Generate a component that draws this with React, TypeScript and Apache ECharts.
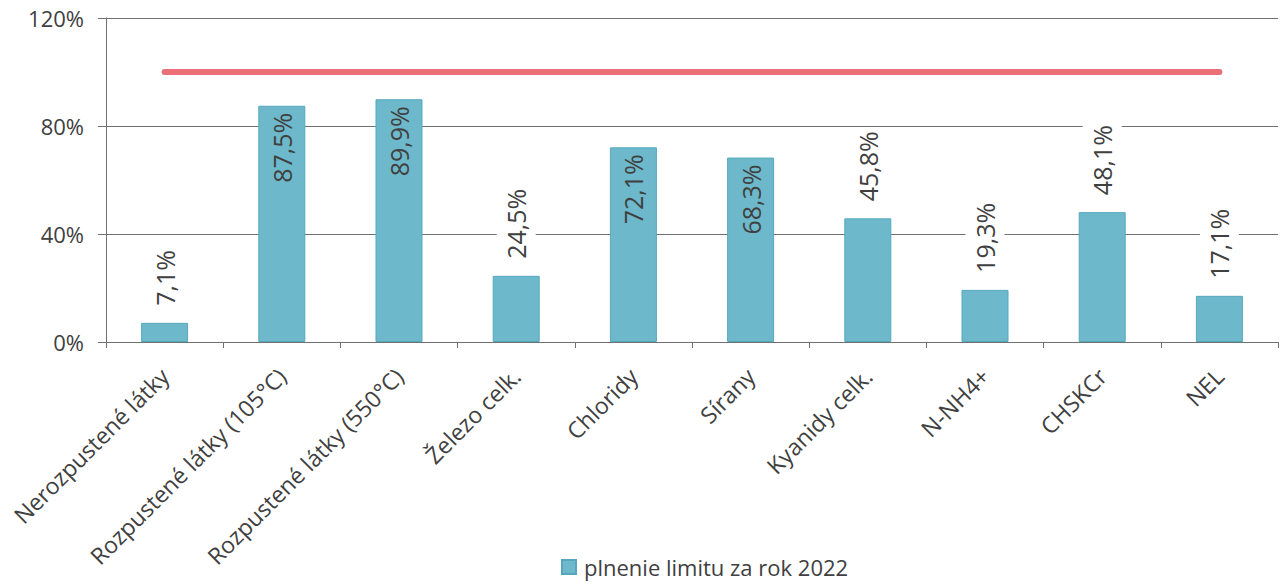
import React, { useEffect, useRef } from "react";
import * as echarts from "echarts";

const categories = [
  "Nerozpustené látky",
  "Rozpustené látky (105°C)",
  "Rozpustené látky (550°C)",
  "Železo celk.",
  "Chloridy",
  "Sírany",
  "Kyanidy celk.",
  "N-NH4+",
  "CHSKCr",
  "NEL",
];
const values = [7.1, 87.5, 89.9, 24.5, 72.1, 68.3, 45.8, 19.3, 48.1, 17.1];
const labelInside = [false, true, true, false, true, true, false, false, false, false];
const limitValues = [100, 100, 100, 100, 100, 100, 100, 100, 100, 100];
const yTicks = [0, 40, 80, 120];
const seriesName = "plnenie limitu za rok 2022";

const FONT = "'Open Sans', 'DejaVu Sans', sans-serif";
const TEXT = "#404040";
const GRID = "#707070";

const fmt = (v: number) => v.toFixed(1).replace(".", ",") + "%";

export default function App() {
  const ref = useRef<HTMLDivElement>(null);
  useEffect(() => {
    document.body.style.margin = "0";
    if (!ref.current) return;
    const chart = echarts.init(ref.current, undefined, { renderer: "svg" });
    const barData = values.map((v, i) => ({
      value: v,
      label: labelInside[i]
        ? {
            position: "insideTop",
            distance: 7,
            align: "right",
            verticalAlign: "middle",
            rotate: 90,
            padding: 0,
            backgroundColor: "transparent",
          }
        : {
            position: "top",
            distance: 14,
            align: "left",
            verticalAlign: "middle",
            rotate: 90,
            padding: [7, 3, 7, 3],
            backgroundColor: "#ffffff",
          },
    }));
    chart.setOption({
      animation: false,
      backgroundColor: "#ffffff",
      textStyle: { fontFamily: FONT },
      grid: { left: 106, right: 5, top: 18, bottom: 242, containLabel: false },
      legend: {
        data: [{ name: seriesName, icon: "rect" }],
        left: 561,
        top: 554,
        padding: 0,
        itemWidth: 14,
        itemHeight: 14,
        textStyle: {
          fontFamily: FONT,
          fontSize: 22,
          lineHeight: 26,
          color: TEXT,
          padding: [0, 0, 0, 3],
        },
      },
      xAxis: {
        type: "category",
        data: categories,
        boundaryGap: true,
        axisLine: { show: true, lineStyle: { color: GRID, width: 1 } },
        axisTick: { show: true, length: 6, alignWithLabel: false, lineStyle: { color: GRID } },
        axisLabel: {
          rotate: 45,
          interval: 0,
          margin: 30,
          fontFamily: FONT,
          fontSize: 23,
          color: TEXT,
        },
      },
      yAxis: {
        type: "value",
        min: yTicks[0],
        max: yTicks[yTicks.length - 1],
        interval: 40,
        axisLine: { show: true, lineStyle: { color: GRID, width: 1 } },
        axisTick: { show: true, length: 8, lineStyle: { color: GRID } },
        axisLabel: {
          formatter: "{value}%",
          margin: 22,
          fontFamily: FONT,
          fontSize: 22,
          color: TEXT,
        },
        splitLine: { show: true, lineStyle: { color: GRID, width: 1 } },
      },
      series: [
        {
          name: seriesName,
          type: "bar",
          data: barData,
          barWidth: 47,
          itemStyle: { color: "#6db9cb", borderColor: "#55a8bc", borderWidth: 1 },
          label: {
            show: true,
            formatter: (p: any) => fmt(p.value),
            fontFamily: FONT,
            fontSize: 25,
            color: TEXT,
          },
          z: 2,
        },
        {
          name: "limit",
          type: "line",
          data: limitValues,
          symbol: "none",
          lineStyle: { color: "#ea6f78", width: 6, cap: "round" },
          z: 3,
          silent: true,
        },
      ],
    });
    return () => chart.dispose();
  }, []);
  return <div ref={ref} style={{ width: 1283, height: 584 }} />;
}
